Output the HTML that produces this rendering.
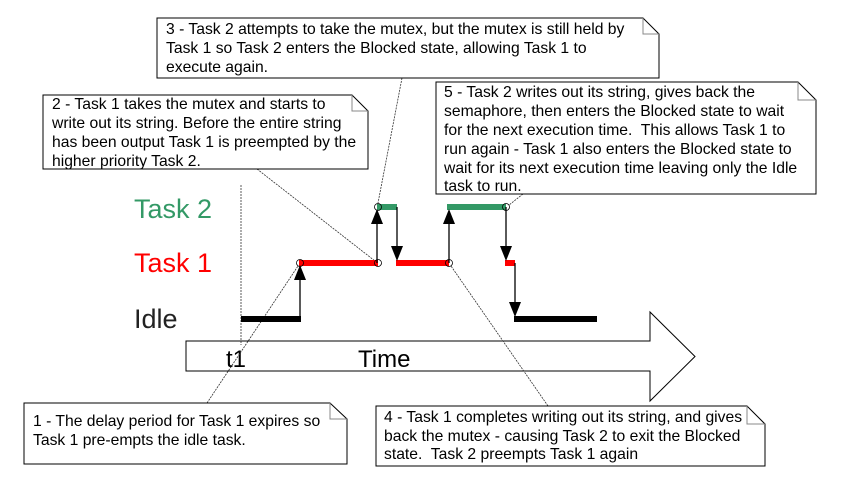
<!DOCTYPE html>
<html><head><meta charset="utf-8"><style>
html,body{margin:0;padding:0;background:#fff;}
svg{display:block;font-family:"Liberation Sans",Arial,sans-serif;}
</style></head><body>
<svg width="855" height="485" viewBox="0 0 855 485" xmlns="http://www.w3.org/2000/svg">
<path d="M186,341 L650,341 L650,312 L695,356.5 L650,401 L650,371 L186,371 Z" fill="#fff" stroke="#000" stroke-width="1"/>
<text x="226" y="367" font-size="24">t1</text>
<text x="358" y="367" font-size="24">Time</text>
<g stroke="#333" stroke-width="0.8" stroke-dasharray="2,1" fill="none">
<line x1="402" y1="78" x2="378" y2="203"/>
<line x1="257" y1="169" x2="375" y2="261"/>
<line x1="523" y1="194" x2="509" y2="205"/>
<line x1="207" y1="403" x2="298" y2="266"/>
<line x1="548" y1="406" x2="451" y2="266"/>
<line x1="241" y1="185" x2="241" y2="345"/>
</g>
<text x="134" y="218" font-size="27" fill="#339966">Task 2</text>
<text x="134" y="272" font-size="27" fill="#ff0000">Task 1</text>
<text x="134" y="328" font-size="27" fill="#222">Idle</text>
<g stroke-width="6">
<line x1="241" y1="319" x2="301" y2="319" stroke="#000"/>
<line x1="514" y1="319" x2="597" y2="319" stroke="#000"/>
<line x1="299" y1="263" x2="378" y2="263" stroke="#f00"/>
<line x1="396" y1="263" x2="449" y2="263" stroke="#f00"/>
<line x1="505" y1="263" x2="515" y2="263" stroke="#f00"/>
<line x1="377" y1="207" x2="397" y2="207" stroke="#339966"/>
<line x1="447" y1="207" x2="506" y2="207" stroke="#339966"/>
</g>
<g stroke="#000" stroke-width="1.3">
<line x1="300" y1="319" x2="300" y2="275"/>
<line x1="377" y1="263" x2="377" y2="219"/>
<line x1="397" y1="207" x2="397" y2="251"/>
<line x1="449" y1="263" x2="449" y2="219"/>
<line x1="506" y1="207" x2="506" y2="251"/>
<line x1="515" y1="263" x2="515" y2="307"/>
</g>
<g fill="#000">
<path d="M300,265 L294,280 L306,280 Z"/>
<path d="M377,209 L371,224 L383,224 Z"/>
<path d="M397,261 L391,246 L403,246 Z"/>
<path d="M449,209 L443,224 L455,224 Z"/>
<path d="M506,261 L500,246 L512,246 Z"/>
<path d="M515,317 L509,302 L521,302 Z"/>
</g>
<g fill="none" stroke="#000" stroke-width="0.8">
<circle cx="300" cy="263" r="3.5"/>
<circle cx="378" cy="263" r="3.5"/>
<circle cx="378" cy="207" r="3.5"/>
<circle cx="449" cy="263" r="3.5"/>
<circle cx="506" cy="207" r="3.5"/>
</g>
<g fill="#fff" stroke="#000" stroke-width="1">
<path d="M157,18 L643,18 L659,34 L659,78 L157,78 Z"/>
<path d="M43,95 L352,95 L368,111 L368,169 L43,169 Z"/>
<path d="M436,82 L798,82 L816,100 L816,194 L436,194 Z"/>
<path d="M24,403 L330,403 L347,419 L347,464 L24,464 Z"/>
<path d="M376,406 L747,406 L765,424 L765,466 L376,466 Z"/>
</g>
<g fill="none" stroke="#888" stroke-width="1">
<path d="M643,18 L643,34 L659,34"/>
<path d="M352,95 L352,111 L368,111"/>
<path d="M798,82 L798,100 L816,100"/>
<path d="M330,403 L330,419 L347,419"/>
<path d="M747,406 L747,424 L765,424"/>
</g>
<g font-size="15.7" fill="#000">
<text x="166" y="34">3 - Task 2 attempts to take the mutex, but the mutex is still held by</text>
<text x="166" y="53">Task 1 so Task 2 enters the Blocked state, allowing Task 1 to</text>
<text x="166" y="72">execute again.</text>
<text x="52" y="109">2 - Task 1 takes the mutex and starts to</text>
<text x="52" y="128">write out its string. Before the entire string</text>
<text x="52" y="147">has been output Task 1 is preempted by the</text>
<text x="52" y="166">higher priority Task 2.</text>
<text x="444" y="97">5 - Task 2 writes out its string, gives back the</text>
<text x="444" y="116">semaphore, then enters the Blocked state to wait</text>
<text x="444" y="135" xml:space="preserve">for the next execution time.  This allows Task 1 to</text>
<text x="444" y="154">run again - Task 1 also enters the Blocked state to</text>
<text x="444" y="173">wait for its next execution time leaving only the Idle</text>
<text x="444" y="191">task to run.</text>
<text x="33" y="426">1 - The delay period for Task 1 expires so</text>
<text x="33" y="445">Task 1 pre-empts the idle task.</text>
<text x="384" y="422">4 - Task 1 completes writing out its string, and gives</text>
<text x="384" y="441">back the mutex - causing Task 2 to exit the Blocked</text>
<text x="384" y="459" xml:space="preserve">state.  Task 2 preempts Task 1 again</text>
</g>
</svg>
</body></html>
